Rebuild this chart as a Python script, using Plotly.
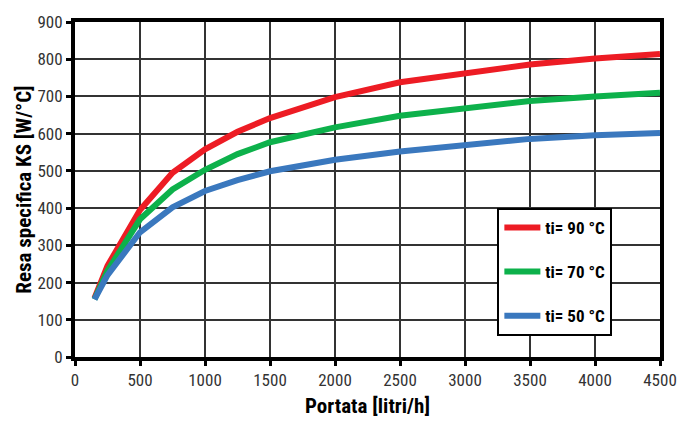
import plotly.graph_objects as go

# Portata (flow rate) in litri/h
portata = [150, 250, 500, 750, 1000, 1250, 1500, 1750, 2000, 2500, 3000, 3500, 4000, 4500]

# Resa specifica KS [W/°C] for each inlet temperature
ks_90 = [158, 245, 395, 495, 558, 605, 642, 672, 698, 738, 762, 786, 802, 814]
ks_70 = [155, 232, 370, 450, 503, 545, 577, 598, 617, 648, 670, 688, 700, 710]
ks_50 = [155, 220, 335, 402, 446, 475, 499, 516, 530, 552, 570, 586, 596, 602]

series = [
    ("ti= 90 °C", ks_90, "#ED1C24"),
    ("ti= 70 °C", ks_70, "#0DB14B"),
    ("ti= 50 °C", ks_50, "#3A78BE"),
]

x_ticks = list(range(0, 4501, 500))
y_ticks = list(range(0, 901, 100))

font_family = "Roboto Condensed, Liberation Sans Narrow, Arial Narrow, Liberation Sans, sans-serif"

fig = go.Figure()
for i, (name, vals, color) in enumerate(series):
    fig.add_trace(go.Scatter(
        x=portata, y=vals, name=name, mode="lines",
        line=dict(color=color, width=6),
        legendgroup=f"g{i}",
    ))

axis_common = dict(
    showline=True, linecolor="black", linewidth=4, mirror=True,
    ticks="outside", ticklen=5, tickwidth=3, tickcolor="black",
    showgrid=True, gridcolor="#333333", gridwidth=1.5,
    zeroline=False,
    tickfont=dict(family=font_family, size=17, color="#333333"),
)

fig.update_xaxes(
    range=[0, 4500], tickvals=x_ticks,
    title=dict(text="<b>Portata [litri/h]</b>",
               font=dict(family=font_family, size=21, color="black"), standoff=10),
    **axis_common,
)
fig.update_yaxes(
    range=[0, 900], tickvals=y_ticks,
    title=dict(text="<b>Resa specifica KS [W/°C]</b>",
               font=dict(family=font_family, size=21, color="black"), standoff=1),
    **axis_common,
)

fig.update_layout(
    width=693, height=427,
    margin=dict(l=75, r=33, t=20, b=68),
    paper_bgcolor="white", plot_bgcolor="white",
    showlegend=True,
    legend=dict(
        x=0.722, y=0.445, xanchor="left", yanchor="top",
        bgcolor="white", bordercolor="black", borderwidth=2,
        font=dict(family=font_family, size=17, color="black", weight="bold"),
        tracegroupgap=19,
        traceorder="grouped",
        itemwidth=36,
    ),
)

fig.write_html("out.html")
